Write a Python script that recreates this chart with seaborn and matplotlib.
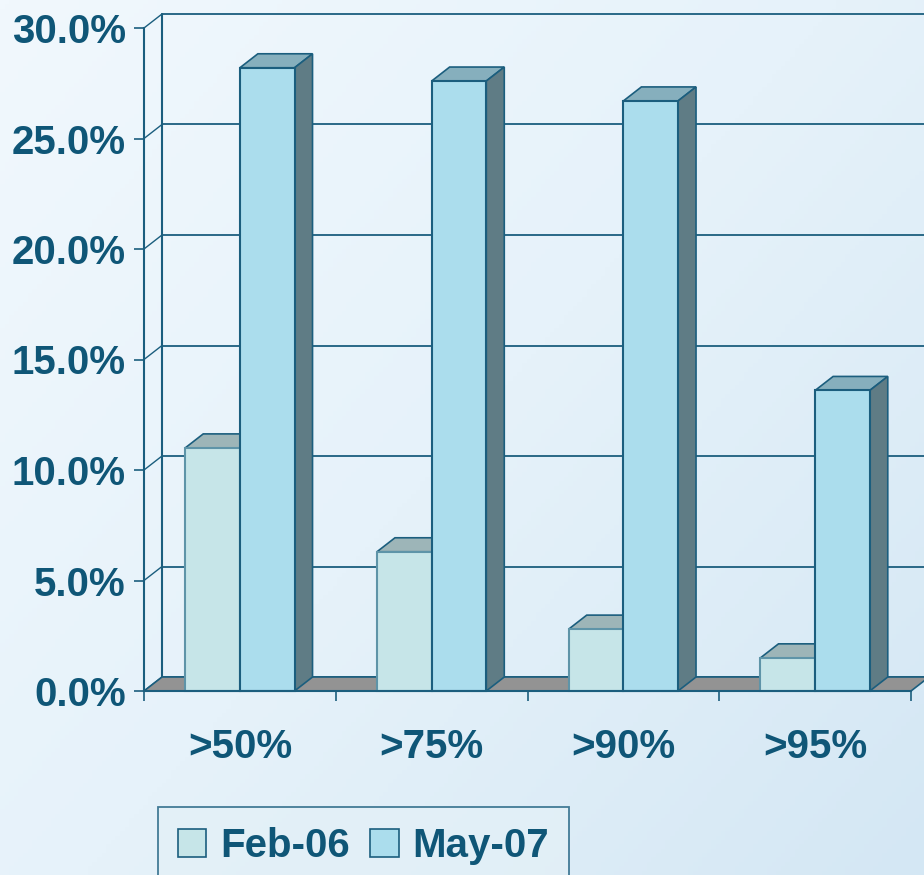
import numpy as np
import pandas as pd
import matplotlib
matplotlib.use("Agg")
import matplotlib.pyplot as plt
from matplotlib.patches import Polygon, Patch
from matplotlib.colors import LinearSegmentedColormap
import seaborn as sns

# ---------------- data ----------------
categories = [">50%", ">75%", ">90%", ">95%"]
series = ["Feb-06", "May-07"]
feb06 = [11.0, 6.3, 2.8, 1.5]
may07 = [28.2, 27.6, 26.7, 13.6]
yticks = [0, 5, 10, 15, 20, 25, 30]
ytick_labels = ["0.0%", "5.0%", "10.0%", "15.0%", "20.0%", "25.0%", "30.0%"]

df = pd.DataFrame({
    "threshold": categories * 2,
    "period": [series[0]] * 4 + [series[1]] * 4,
    "value": feb06 + may07,
})

# ---------------- style ----------------
sns.set_theme(style="white")
plt.rcParams["font.family"] = ["Liberation Sans", "DejaVu Sans"]
plt.rcParams["font.weight"] = "bold"

TEXT = "#0F5677"
EDGE = "#1B5E7E"
FRONT = {"Feb-06": "#C6E5E8", "May-07": "#ABDDED"}
TOP = {"Feb-06": "#9DB5B8", "May-07": "#86AFBD"}
SIDE = {"Feb-06": "#7A9699", "May-07": "#5F7C85"}
BAR_EDGE = {"Feb-06": "#5E94A8", "May-07": "#1B5E7E"}
FLOOR = "#939393"
FS = 29

W, H = 924, 875
fig = plt.figure(figsize=(W / 100, H / 100), dpi=100)

# background gradient
bg = fig.add_axes([0, 0, 1, 1], zorder=-10)
gx, gy = np.meshgrid(np.linspace(0, 1, 200), np.linspace(0, 1, 200))
g = np.clip(0.55 * gx + 0.45 * gy, 0, 1)
cmap = LinearSegmentedColormap.from_list("bg", ["#F1F8FD", "#E6F2FA", "#D4E7F4"])
bg.imshow(g, cmap=cmap, aspect="auto", extent=[0, 1, 0, 1], origin="upper")
bg.set_axis_off()

# main axes (front plane)
x_left, x_right, y_bot, y_top = 144, 911, 691, 28
ax = fig.add_axes([x_left / W, 1 - y_bot / H, (x_right - x_left) / W, (y_bot - y_top) / H])
ax.patch.set_alpha(0)

sns.barplot(data=df, x="threshold", y="value", hue="period", order=categories,
            hue_order=series, palette=FRONT, width=0.57, saturation=1,
            linewidth=1.5, edgecolor=EDGE, legend=False, ax=ax)
ax.set_xlim(-0.5, len(categories) - 0.5)
ax.set_ylim(0, 30)

# depth offset (pixels -> data units)
DX_PX, DY_PX = 18, 14
xr = ax.get_xlim()[1] - ax.get_xlim()[0]
yr = ax.get_ylim()[1] - ax.get_ylim()[0]
ox = DX_PX * xr / (x_right - x_left)
oy = DY_PX * yr / (y_bot - y_top)
x0, x1 = ax.get_xlim()

# back wall gridlines and left wall diagonals
for t in yticks:
    ax.plot([x0 + ox, x1 + ox + 1], [t + oy, t + oy], color=EDGE, lw=1.3,
            zorder=0.5, clip_on=False)
    ax.plot([x0, x0 + ox], [t, t + oy], color=EDGE, lw=1.0, zorder=0.5, clip_on=False)
ax.plot([x0 + ox, x0 + ox], [oy, 30 + oy], color=EDGE, lw=1.5, zorder=0.5, clip_on=False)

# floor
floor = Polygon([[x0, 0], [x1, 0], [x1 + ox, oy], [x0 + ox, oy]], closed=True,
                facecolor=FLOOR, edgecolor=EDGE, lw=1.2, zorder=1, clip_on=False)
ax.add_patch(floor)

# 3D faces of bars
patches = [p for p in ax.patches if p is not floor]
n = len(categories)
for k, p in enumerate(patches):
    s = series[k // n]
    base_z = 2 + (k // n) * 1.0
    bx, bw, bh = p.get_x(), p.get_width(), p.get_height()
    top = Polygon([[bx, bh], [bx + bw, bh], [bx + bw + ox, bh + oy], [bx + ox, bh + oy]],
                  closed=True, facecolor=TOP[s], edgecolor=EDGE, lw=1.2,
                  zorder=base_z + 0.2, clip_on=False)
    side = Polygon([[bx + bw, 0], [bx + bw + ox, oy], [bx + bw + ox, bh + oy], [bx + bw, bh]],
                   closed=True, facecolor=SIDE[s], edgecolor=EDGE, lw=1.2,
                   zorder=base_z + 0.2, clip_on=False)
    ax.add_patch(top)
    ax.add_patch(side)
    p.set_zorder(base_z + 0.5)
    p.set_edgecolor(BAR_EDGE[s])
    p.set_clip_on(False)

# axes styling
for sp in ["top", "right"]:
    ax.spines[sp].set_visible(False)
for sp in ["left", "bottom"]:
    ax.spines[sp].set_color(EDGE)
    ax.spines[sp].set_linewidth(1.5)
    ax.spines[sp].set_zorder(5)
ax.set_yticks(yticks)
ax.set_yticklabels(ytick_labels)
ax.set_xticks(range(n))
ax.set_xticklabels(categories)
ax.set_xticks(np.arange(-0.5, n, 1.0), minor=True)
ax.tick_params(axis="y", direction="out", length=7, width=1.2, color=EDGE,
               labelsize=FS, labelcolor=TEXT, pad=6, left=True)
ax.tick_params(axis="x", which="major", length=0, labelsize=FS, labelcolor=TEXT, pad=27)
ax.tick_params(axis="x", which="minor", direction="out", length=7, width=1.2,
               color=EDGE, bottom=True)
for lab in ax.get_xticklabels() + ax.get_yticklabels():
    lab.set_fontweight("bold")
ax.set_xlabel("")
ax.set_ylabel("")
ax.grid(False)

# legend
handles = [Patch(facecolor=FRONT[s], edgecolor=EDGE, lw=1.2, label=s) for s in series]
leg = fig.legend(handles=handles, loc="upper left", bbox_to_anchor=(158 / W, 1 - 807 / H),
                 ncol=2, frameon=True, fancybox=False, fontsize=FS,
                 handlelength=0.7, handleheight=0.7, handletextpad=0.35,
                 columnspacing=0.5, borderpad=0.5, borderaxespad=0)
frame = leg.get_frame()
frame.set_edgecolor(EDGE)
frame.set_linewidth(1.3)
frame.set_facecolor((0.89, 0.94, 0.97, 0.5))
for t in leg.get_texts():
    t.set_color(TEXT)
    t.set_fontweight("bold")

fig.savefig("out.png", dpi=100)
